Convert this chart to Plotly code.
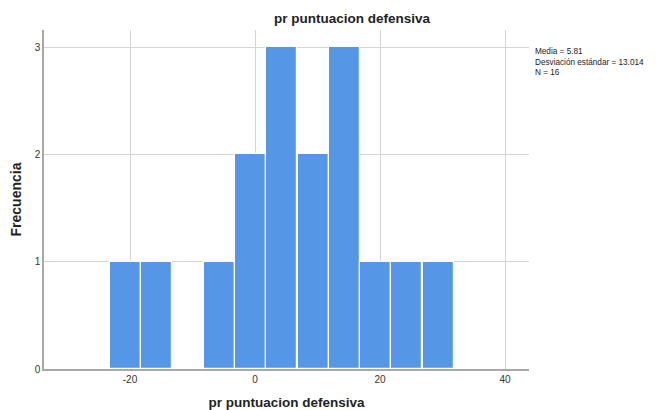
import plotly.graph_objects as go

# Data
bin_centers = [-20.7, -15.7, -10.7, -5.7, -0.7, 4.3, 9.3, 14.3, 19.3, 24.3, 29.3]
counts = [1, 1, 0, 1, 2, 3, 2, 3, 1, 1, 1]
bin_width = 4.98
x_ticks = [-20, 0, 20, 40]
y_ticks = [0, 1, 2, 3]
stats_lines = ["Media = 5.81", "Desviación estándar = 13.014", "N = 16"]
title = "pr puntuacion defensiva"
x_title = "pr puntuacion defensiva"
y_title = "Frecuencia"

FONT = "Liberation Sans, Arial, sans-serif"

fig = go.Figure()
fig.add_trace(go.Bar(
    x=bin_centers, y=counts, width=bin_width,
    marker=dict(color="#5596E6", line=dict(color="white", width=1.2)),
    hoverinfo="x+y",
))

# page body has an 8px default margin, so the figure is sized 8px smaller
fig.update_layout(
    width=649, height=402,
    margin=dict(l=36, r=128, t=22, b=41, autoexpand=False),
    paper_bgcolor="white", plot_bgcolor="white",
    showlegend=False,
    font=dict(family=FONT, size=10, color="#333333"),
    bargap=0,
)

fig.update_xaxes(
    range=[-33.76, 43.84], automargin=False,
    tickmode="array", tickvals=x_ticks, ticktext=[str(v) for v in x_ticks],
    showgrid=True, gridcolor="#d4d4d4", gridwidth=1,
    showline=True, linecolor="#a8a8a8", linewidth=1.5,
    ticks="", zeroline=False,
    tickfont=dict(size=10, color="#333333", family=FONT),
    title=dict(text="<b>" + x_title + "</b>", font=dict(size=13.5, color="#222222", family=FONT), standoff=14),
)
fig.update_yaxes(
    range=[0, 3.159], automargin=False,
    tickmode="array", tickvals=y_ticks, ticktext=[str(v) for v in y_ticks],
    showgrid=True, gridcolor="#d4d4d4", gridwidth=1,
    showline=True, linecolor="#a8a8a8", linewidth=1.5,
    ticks="", zeroline=False,
    tickfont=dict(size=10, color="#333333", family=FONT),
    title=dict(text="<b>" + y_title + "</b>", font=dict(size=14, color="#222222", family=FONT), standoff=11),
)

fig.add_annotation(
    text="<b>" + title + "</b>", xref="paper", yref="paper",
    x=(352 - 44) / 485, y=1, yshift=12, xanchor="center", yanchor="middle",
    showarrow=False, font=dict(size=13.5, color="#222222", family=FONT),
)

fig.add_annotation(
    text="<br>".join(stats_lines), xref="paper", yref="paper",
    x=1, xshift=4, y=(369 - 45) / 339, xanchor="left", yanchor="top",
    align="left", showarrow=False,
    font=dict(size=8.2, color="#222222", family=FONT),
)

fig.write_html("out.html")
